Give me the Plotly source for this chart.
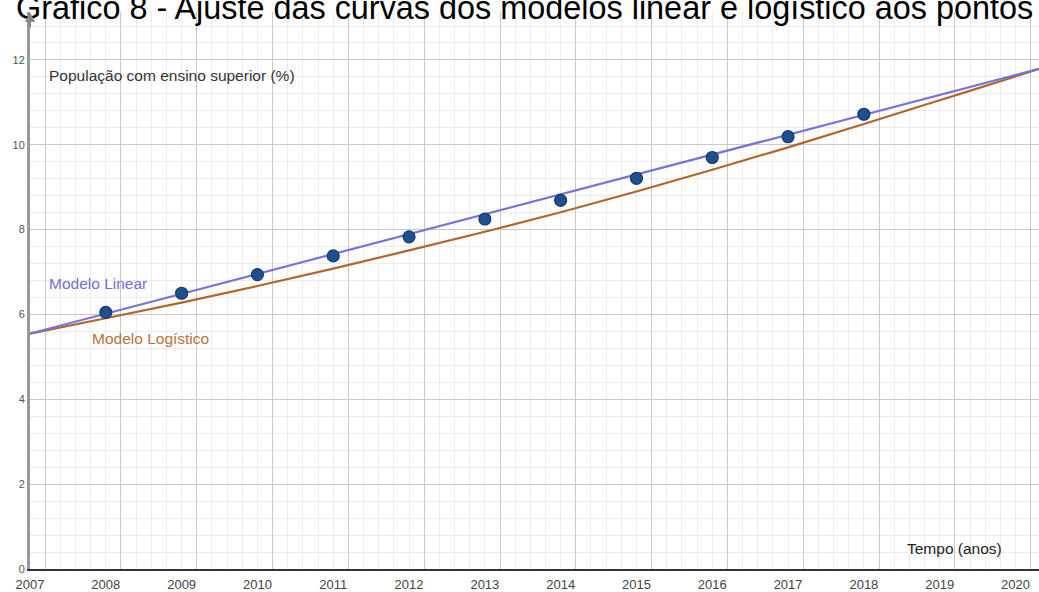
import plotly.graph_objects as go

# ---- data ----
anos_pontos = [2008, 2009, 2010, 2011, 2012, 2013, 2014, 2015, 2016, 2017, 2018]
pop_superior = [6.05, 6.50, 6.94, 7.38, 7.83, 8.25, 8.69, 9.21, 9.70, 10.19, 10.72]

linear_x = [2007.0, 2020.31]
linear_y = [5.55, 11.79]

logist_x = [2007, 2008, 2009, 2010, 2011, 2012, 2013, 2014, 2015, 2016, 2017, 2018, 2019, 2020, 2020.31]
logist_y = [5.55, 5.91, 6.28, 6.67, 7.08, 7.51, 7.95, 8.41, 8.90, 9.41, 9.94, 10.49, 11.05, 11.61, 11.79]

anos_ticks = list(range(2007, 2021))
y_ticks = [0, 2, 4, 6, 8, 10, 12]

titulo = "Gráfico 8 - Ajuste das curvas dos modelos linear e logístico aos pontos"

X_RANGE = [2007.0, 2020.31]
Y_RANGE = [0, 13.13]
FONT = "Liberation Sans, Arial, sans-serif"

fig = go.Figure()

fig.add_trace(go.Scatter(x=logist_x, y=logist_y, mode="lines",
                         line=dict(color="#b5652b", width=2.2), line_shape="spline",
                         hoverinfo="skip", showlegend=False))
fig.add_trace(go.Scatter(x=linear_x, y=linear_y, mode="lines",
                         line=dict(color="#7474dc", width=2.2),
                         hoverinfo="skip", showlegend=False))
fig.add_trace(go.Scatter(x=anos_pontos, y=pop_superior, mode="markers",
                         marker=dict(color="#1f4f8f", size=12,
                                     line=dict(color="#163a6b", width=1.2)),
                         showlegend=False))

# invisible trace on the grid axis so it is drawn
fig.add_trace(go.Scatter(x=[X_RANGE[0]], y=[0], xaxis="x2", mode="markers",
                         marker=dict(opacity=0), hoverinfo="skip", showlegend=False))

fig.update_layout(
    width=1039, height=592,
    margin=dict(l=30, r=0, t=12, b=18),
    paper_bgcolor="white", plot_bgcolor="white",
    font=dict(family=FONT, color="#444"),
    xaxis=dict(range=X_RANGE, tickmode="array", tickvals=anos_ticks,
               ticktext=[str(a) for a in anos_ticks],
               showgrid=False, zeroline=False,
               showline=True, linecolor="#333", linewidth=2,
               ticks="", tickfont=dict(size=13, color="#444"), ticklabelstandoff=2),
    xaxis2=dict(range=X_RANGE, overlaying="x", tickmode="linear", tick0=2007.2, dtick=1,
                showticklabels=False, showgrid=True, gridcolor="#c9c9c9", gridwidth=1,
                zeroline=False, showline=False, ticks="",
                minor=dict(tick0=2007.0, dtick=0.2, showgrid=True, gridcolor="#ececec",
                           gridwidth=1)),
    yaxis=dict(range=Y_RANGE, tickmode="array", tickvals=y_ticks,
               showgrid=True, gridcolor="#c9c9c9", gridwidth=1,
               zeroline=False, showline=True, linecolor="#999", linewidth=3,
               ticks="", tickfont=dict(size=11, color="#555"),
               minor=dict(dtick=0.4, showgrid=True, gridcolor="#ececec", gridwidth=1)),
)

fig.add_annotation(text=titulo, xref="paper", yref="paper", x=-0.0159, y=1.0,
                   xanchor="left", yanchor="bottom", yshift=-16,
                   showarrow=False, font=dict(family=FONT, size=32.4, color="black"))

fig.add_annotation(text="População com ensino superior (%)", x=2007.22, y=11.64,
                   xanchor="left", yanchor="middle", showarrow=False,
                   font=dict(family=FONT, size=15.5, color="#333"))
fig.add_annotation(text="Modelo Linear", x=2007.22, y=6.73,
                   xanchor="left", yanchor="middle", showarrow=False,
                   font=dict(family=FONT, size=15.5, color="#7070d8"))
fig.add_annotation(text="Modelo Logístico", x=2007.79, y=5.44,
                   xanchor="left", yanchor="middle", showarrow=False,
                   font=dict(family=FONT, size=15.5, color="#b8733a"))
fig.add_annotation(text="Tempo (anos)", x=2019.85, y=0.49,
                   xanchor="right", yanchor="middle", showarrow=False,
                   font=dict(family=FONT, size=15.5, color="#222"))

# y-axis arrow head
fig.add_annotation(x=X_RANGE[0], y=Y_RANGE[1], ax=X_RANGE[0], ay=Y_RANGE[1] - 0.4,
                   xref="x", yref="y", axref="x", ayref="y", text="",
                   showarrow=True, arrowhead=2, arrowsize=1, arrowwidth=2, arrowcolor="#888")

fig.write_html("out.html", config={"displayModeBar": False},
               post_script="document.body.style.margin='0';document.body.style.overflow='hidden';")
